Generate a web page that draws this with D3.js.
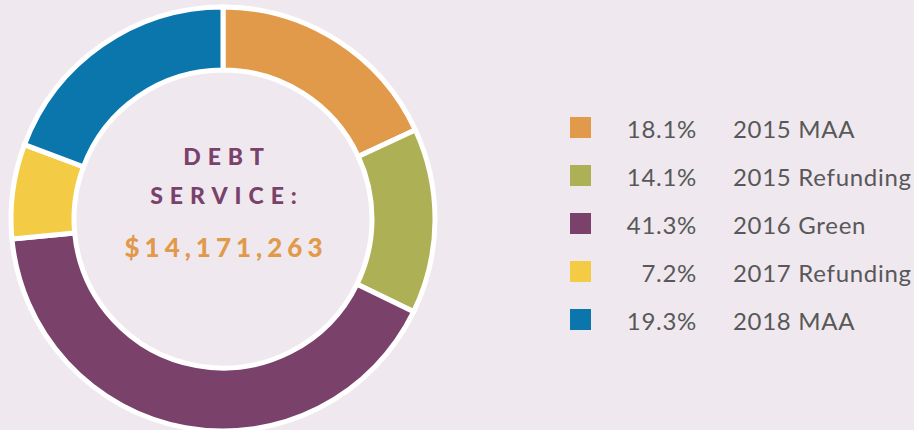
<!DOCTYPE html>
<html>
<head>
<meta charset="utf-8">
<script src="https://cdn.jsdelivr.net/npm/d3@7"></script>
<style>
  html, body { margin: 0; padding: 0; background: #efe8ef; }
  svg { display: block; }
</style>
</head>
<body>
<svg id="chart" width="914" height="430"></svg>
<script>
// Data
const categories = ["2015 MAA", "2015 Refunding", "2016 Green", "2017 Refunding", "2018 MAA"];
const shares = [18.1, 14.1, 41.3, 7.2, 19.3];
const colors = ["#e09a4a", "#aeb055", "#7a416a", "#f3cb45", "#0b76ac"];
const titleLines = ["DEBT", "SERVICE:"];
const totalLabel = "$14,171,263";

const svg = d3.select("#chart");

const cx = 223, cy = 219;
const outerR = 212, innerR = 149;

const pie = d3.pie().sort(null).value(d => d);
const arc = d3.arc().innerRadius(innerR).outerRadius(outerR);

const donut = svg.append("g").attr("transform", `translate(${cx},${cy})`);

donut.selectAll("path")
    .data(pie(shares))
    .enter()
    .append("path")
    .attr("d", arc)
    .attr("fill", (d, i) => colors[i])
    .attr("stroke", "#ffffff")
    .attr("stroke-width", 5)
    .attr("stroke-linejoin", "miter");

// Center label
donut.selectAll(".title")
    .data(titleLines)
    .enter()
    .append("text")
    .attr("class", "title")
    .attr("x", 4)
    .attr("y", (d, i) => -54 + i * 39)
    .attr("text-anchor", "middle")
    .style("font-family", "Lato, sans-serif")
    .style("font-weight", 900)
    .style("font-size", "23px")
    .style("letter-spacing", "7px")
    .style("fill", "#7a416a")
    .text(d => d);

donut.append("text")
    .attr("x", 3)
    .attr("y", 38)
    .attr("text-anchor", "middle")
    .style("font-family", "Lato, sans-serif")
    .style("font-weight", 900)
    .style("font-size", "26px")
    .style("letter-spacing", "5px")
    .style("fill", "#e09a4a")
    .text(totalLabel);

// Legend
const yScale = d3.scalePoint()
    .domain(categories)
    .range([127.5, 319.5]);

const legend = svg.append("g");

const rows = legend.selectAll(".row")
    .data(categories)
    .enter()
    .append("g")
    .attr("class", "row")
    .attr("transform", d => `translate(0,${yScale(d)})`);

rows.append("rect")
    .attr("x", 570)
    .attr("y", -10.5)
    .attr("width", 21)
    .attr("height", 21)
    .attr("fill", (d, i) => colors[i]);

rows.append("text")
    .attr("x", 697)
    .attr("y", 10.5)
    .attr("text-anchor", "end")
    .style("font-family", "Lato, sans-serif")
    .style("font-weight", 400)
    .style("font-size", "24px")
    .style("letter-spacing", "0.7px")
    .style("fill", "#585858")
    .text((d, i) => shares[i].toFixed(1) + "%");

rows.append("text")
    .attr("x", 733)
    .attr("y", 10.5)
    .style("font-family", "Lato, sans-serif")
    .style("font-weight", 400)
    .style("font-size", "24px")
    .style("letter-spacing", "0.7px")
    .style("fill", "#585858")
    .text(d => d);
</script>
</body>
</html>
